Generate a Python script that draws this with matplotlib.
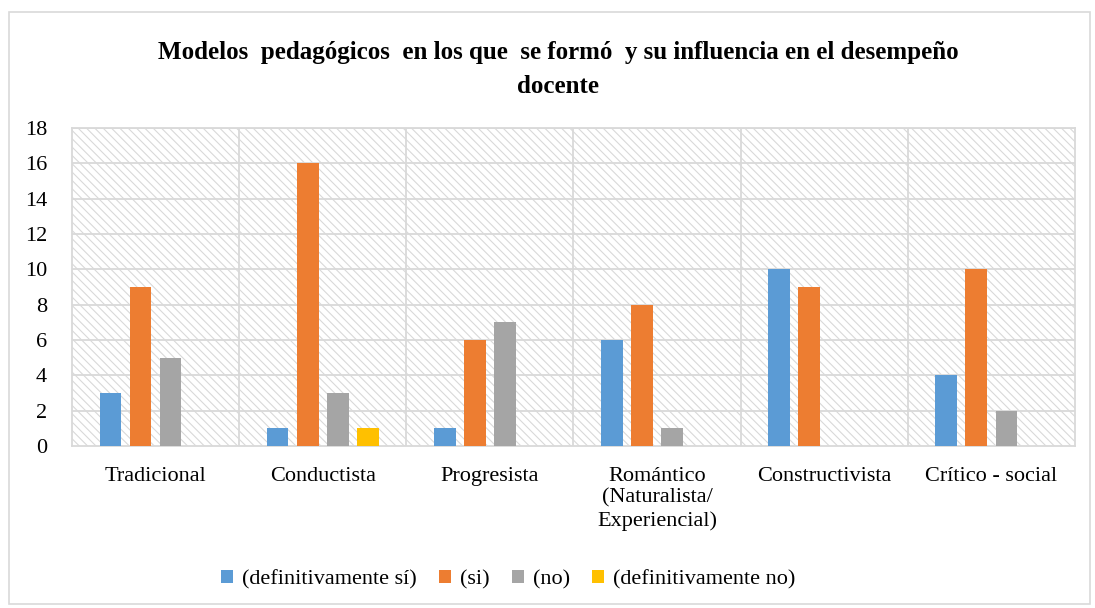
import numpy as np
import matplotlib.pyplot as plt
from matplotlib.patches import Rectangle

# datos
categorias = ['Tradicional', 'Conductista', 'Progresista',
              'Romántico\n(Naturalista/\nExperiencial)', 'Constructivista', 'Crítico - social']
series = ['(definitivamente sí)', '(si)', '(no)', '(definitivamente no)']
def_si = [3, 1, 1, 6, 10, 4]
si = [9, 16, 6, 8, 9, 10]
no = [5, 3, 7, 1, 0, 2]
def_no = [0, 1, 0, 0, 0, 0]
valores = [def_si, si, no, def_no]
colores = ['#5b9bd5', '#ed7d31', '#a5a5a5', '#ffc000']

plt.rcParams['font.family'] = ['Liberation Serif', 'DejaVu Serif']
plt.rcParams['hatch.color'] = '#d9d9d9'
plt.rcParams['hatch.linewidth'] = 0.8

fig = plt.figure(figsize=(10.95, 6.08), dpi=100)
ax = fig.add_axes([0.0657, 0.2664, 0.916, 0.5231])

# borde exterior del grafico
fig.patches.append(Rectangle((9 / 1095, 4 / 608), 1081 / 1095, 592 / 608,
                             transform=fig.transFigure, fill=False,
                             edgecolor='#d9d9d9', linewidth=1.2))

# fondo rayado
ax.add_patch(Rectangle((0, 0), 1, 1, transform=ax.transAxes, facecolor='white',
                       hatch='\\\\\\\\', edgecolor='#d9d9d9', linewidth=0, zorder=0))

x = np.arange(len(categorias))
ancho = 0.13
paso = 0.18
for i, (vals, nombre) in enumerate(zip(valores, series)):
    ax.bar(x + (i - 1.5) * paso, vals, width=ancho, color=colores[i], label=nombre, zorder=3)

ax.set_xlim(-0.5, len(categorias) - 0.5)
ax.set_ylim(0, 18)
ax.set_yticks(range(0, 19, 2))
ax.set_xticks(x)
ax.set_xticklabels(categorias, fontsize=16, linespacing=1.2)
ax.tick_params(axis='y', labelsize=16, length=0, pad=18)
ax.tick_params(axis='x', length=0, pad=15)

# lineas de cuadricula
for yv in range(2, 19, 2):
    ax.axhline(yv, color='#d9d9d9', linewidth=1.3, zorder=1)
for xv in np.arange(0.5, len(categorias) - 0.5, 1):
    ax.axvline(xv, color='#d9d9d9', linewidth=1.3, zorder=1)
for s in ax.spines.values():
    s.set_color('#d9d9d9')
    s.set_linewidth(1.3)

fig.text(0.51, 0.886, 'Modelos  pedagógicos  en los que  se formó  y su influencia en el desempeño\ndocente',
         ha='center', va='center', fontsize=18, fontweight='bold', linespacing=1.6)

ax.legend(loc='center', bbox_to_anchor=(0.435, -0.42), ncol=4, frameon=False,
          fontsize=16, handlelength=0.55, handleheight=0.55, handletextpad=0.4,
          columnspacing=1.0)

fig.savefig('out.png', dpi=100)
